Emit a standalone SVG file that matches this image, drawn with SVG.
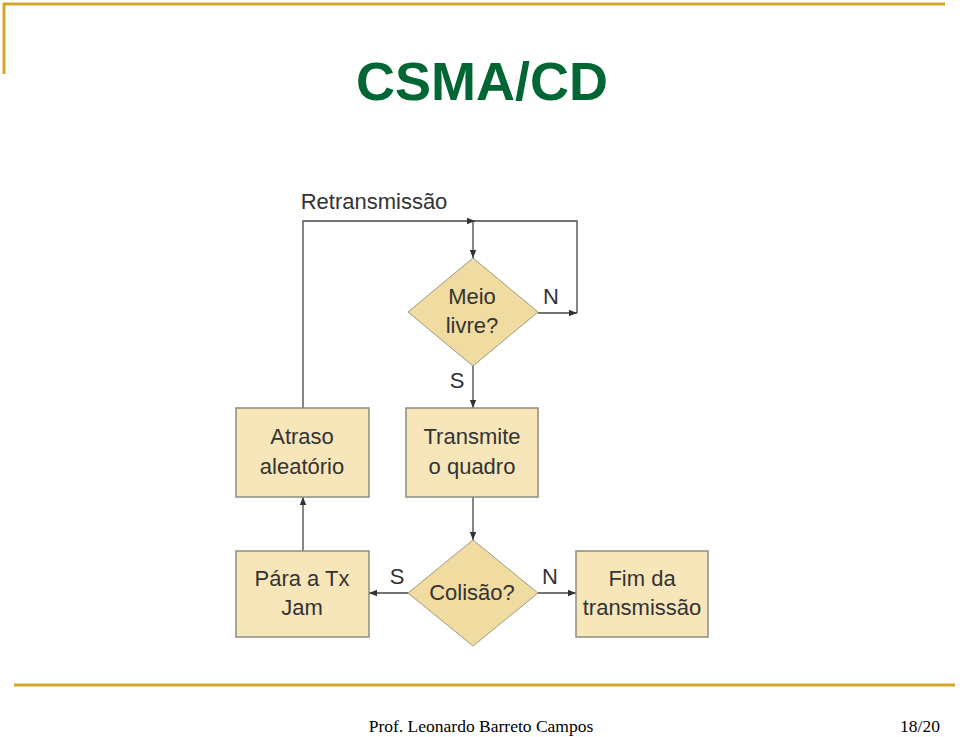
<svg xmlns="http://www.w3.org/2000/svg" width="960" height="737" viewBox="0 0 960 737">
<style>
.rule{stroke:#D4A52A;stroke-width:3;fill:none}
.box{fill:#F6E6BA;stroke:#8C8C80;stroke-width:1.5}
.dia{fill:#F0DBA0;stroke:#A09A80;stroke-width:1}
.lbl{font-family:"Liberation Sans",Arial,sans-serif;font-size:22px;fill:#333;text-anchor:middle}
.con{stroke:#444;stroke-width:1.3;fill:none}
</style>
<defs>
<marker id="ah" viewBox="0 0 10 10" refX="10" refY="5" markerWidth="8" markerHeight="8" orient="auto" markerUnits="userSpaceOnUse">
<path d="M0,1 L10,5 L0,9 z" fill="#333"/>
</marker>
</defs>
<rect width="960" height="737" fill="#fff"/>
<path class="rule" d="M4,74 V4 H945"/>
<path class="rule" d="M14,685 H955"/>
<text x="482" y="100" font-family="'Liberation Sans',Arial,sans-serif" font-weight="bold" font-size="54" fill="#006633" text-anchor="middle">CSMA/CD</text>
<text x="481" y="732" font-family="'Liberation Serif','Times New Roman',serif" font-size="17.5" fill="#000" text-anchor="middle">Prof. Leonardo Barreto Campos</text>
<text x="920" y="732" font-family="'Liberation Serif','Times New Roman',serif" font-size="17.5" fill="#000" text-anchor="middle">18/20</text>

<text class="lbl" x="374" y="209" font-size="21">Retransmissão</text>

<g id="connectors">
<path class="con" d="M303,408 V221 H475" marker-end="url(#ah)"/>
<path class="con" d="M473,221 H577 V313"/>
<path class="con" d="M473,221 V258" marker-end="url(#ah)"/>
<path class="con" d="M538,313 H577" marker-end="url(#ah)"/>
<path class="con" d="M473,366 V408" marker-end="url(#ah)"/>
<path class="con" d="M473,497 V540" marker-end="url(#ah)"/>
<path class="con" d="M408,593 H369" marker-end="url(#ah)"/>
<path class="con" d="M538,593 H576" marker-end="url(#ah)"/>
<path class="con" d="M303,551 V497" marker-end="url(#ah)"/>
<text class="lbl" x="551" y="304" font-size="20">N</text>
<text class="lbl" x="457" y="388" font-size="20">S</text>
<text class="lbl" x="397" y="584" font-size="20">S</text>
<text class="lbl" x="550" y="584" font-size="20">N</text>
</g>

<g id="meio">
<polygon class="dia" points="473,258 538,312 473,366 408,312"/>
<text class="lbl" x="472" y="304">Meio</text>
<text class="lbl" x="472" y="333">livre?</text>
</g>
<g id="transmite">
<rect class="box" x="406" y="408" width="132" height="89"/>
<text class="lbl" x="472" y="444">Transmite</text>
<text class="lbl" x="472" y="474">o quadro</text>
</g>
<g id="atraso">
<rect class="box" x="236" y="408" width="133" height="89"/>
<text class="lbl" x="302" y="444">Atraso</text>
<text class="lbl" x="302" y="474">aleatório</text>
</g>
<g id="colisao">
<polygon class="dia" points="473,540 538,593 473,646 408,593"/>
<text class="lbl" x="472" y="600">Colisão?</text>
</g>
<g id="para">
<rect class="box" x="236" y="551" width="133" height="86"/>
<text class="lbl" x="302" y="586">Pára a Tx</text>
<text class="lbl" x="302" y="615">Jam</text>
</g>
<g id="fim">
<rect class="box" x="576" y="551" width="132" height="86"/>
<text class="lbl" x="642" y="586">Fim da</text>
<text class="lbl" x="642" y="615">transmissão</text>
</g>
</svg>
